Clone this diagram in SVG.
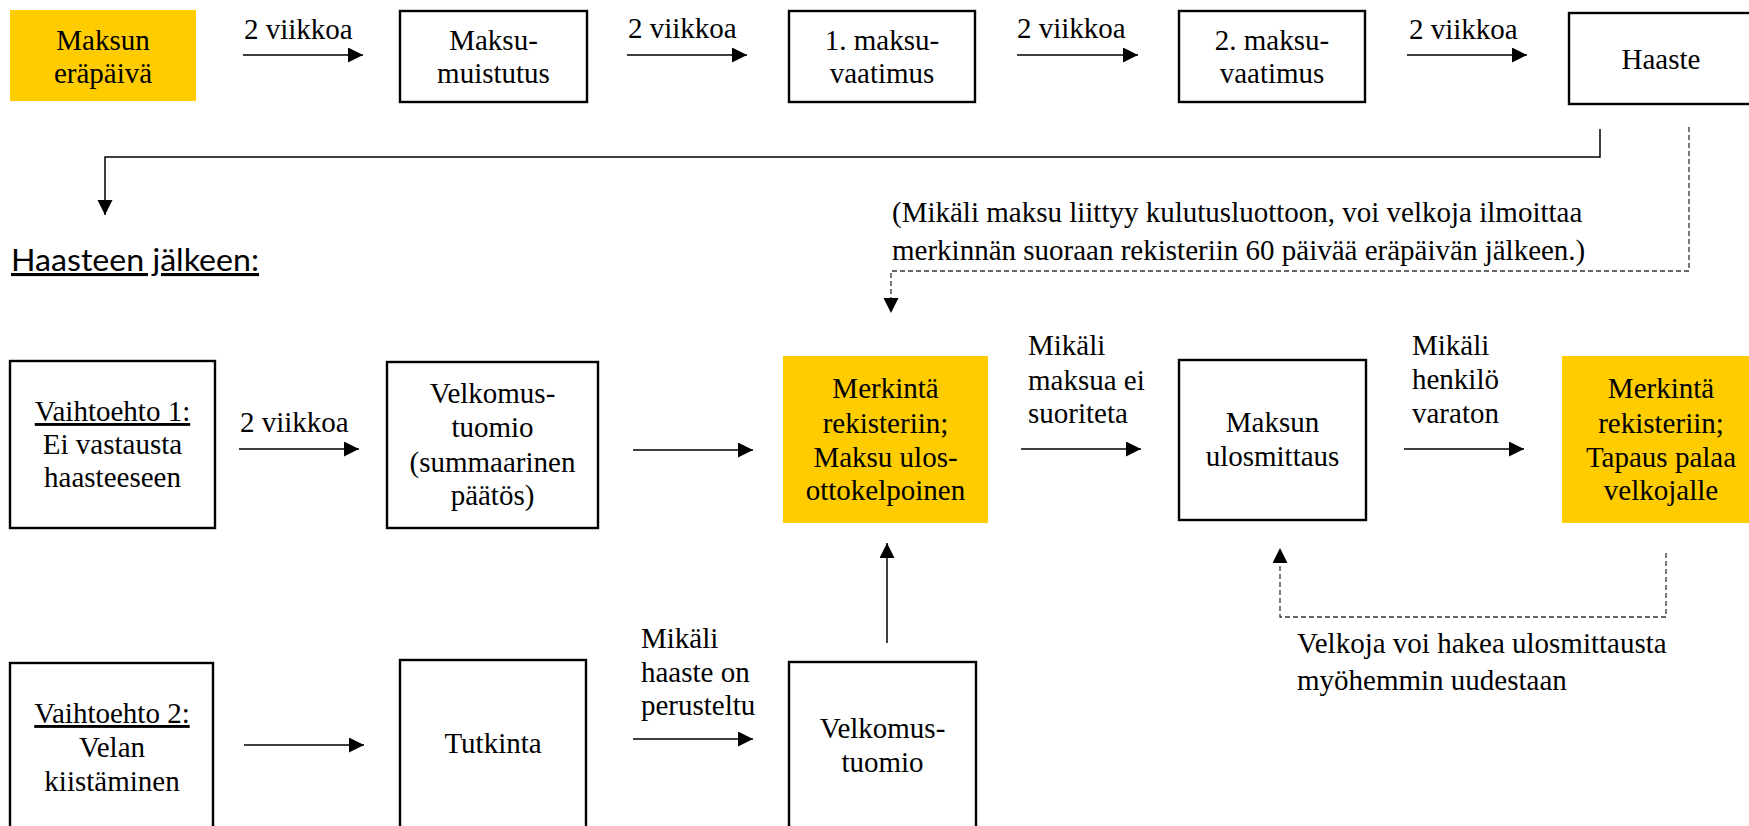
<svg xmlns="http://www.w3.org/2000/svg" width="1749" height="826" viewBox="0 0 1749 826">
<style>
.t{font-family:"Liberation Serif","Times New Roman",serif;font-size:29px;fill:#000}
.c{text-anchor:middle}
.box{fill:#fff;stroke:#000;stroke-width:2.4}
.ybox{fill:#FFCC00;stroke:none}
.ln{fill:none;stroke:#000;stroke-width:1.5}
.dash{fill:none;stroke:#333;stroke-width:1.3;stroke-dasharray:5 3}
.u{text-decoration:underline}
.h{font-family:Lato,"Open Sans",sans-serif;font-size:31px;fill:#000;text-decoration:underline}
</style>
<defs>
<marker id="ah" markerUnits="userSpaceOnUse" markerWidth="16" markerHeight="16" refX="15" refY="7.5" orient="auto" viewBox="0 0 16 16">
<path d="M0,0 L15,7.5 L0,15 z" fill="#000"/>
</marker>
</defs>
<rect width="1749" height="826" fill="#fff"/>

<g id="n1"><rect class="ybox" x="10" y="10" width="186" height="91"/>
<text class="t c" x="103" y="50">Maksun</text><text class="t c" x="103" y="83">eräpäivä</text></g>
<g id="n2"><rect class="box" x="400" y="11" width="187" height="91"/>
<text class="t c" x="493.5" y="50">Maksu-</text><text class="t c" x="493.5" y="83">muistutus</text></g>
<g id="n3"><rect class="box" x="789" y="11" width="186" height="91"/>
<text class="t c" x="882" y="50">1. maksu-</text><text class="t c" x="882" y="83">vaatimus</text></g>
<g id="n4"><rect class="box" x="1179" y="11" width="186" height="91"/>
<text class="t c" x="1272" y="50">2. maksu-</text><text class="t c" x="1272" y="83">vaatimus</text></g>
<g id="n5"><rect class="box" x="1569" y="13" width="200" height="91"/>
<text class="t c" x="1661" y="69">Haaste</text></g>

<text class="h" x="11" y="271" textLength="248" lengthAdjust="spacingAndGlyphs">Haasteen jälkeen:</text>

<g id="note">
<text class="t" x="892" y="222">(Mikäli maksu liittyy kulutusluottoon, voi velkoja ilmoittaa</text>
<text class="t" x="892" y="260">merkinnän suoraan rekisteriin 60 päivää eräpäivän jälkeen.)</text>
</g>

<g id="n6"><rect class="box" x="10" y="361" width="205" height="167"/>
<text class="t c u" x="112.5" y="421">Vaihtoehto 1:</text><text class="t c" x="112.5" y="454">Ei vastausta</text><text class="t c" x="112.5" y="487">haasteeseen</text></g>
<g id="n7"><rect class="box" x="387" y="362" width="211" height="166"/>
<text class="t c" x="492.5" y="403">Velkomus-</text><text class="t c" x="492.5" y="437">tuomio</text><text class="t c" x="492.5" y="472">(summaarinen</text><text class="t c" x="492.5" y="505">päätös)</text></g>
<g id="n8"><rect class="ybox" x="783" y="356" width="205" height="167"/>
<text class="t c" x="885.5" y="398">Merkintä</text><text class="t c" x="885.5" y="433">rekisteriin;</text><text class="t c" x="885.5" y="467">Maksu ulos-</text><text class="t c" x="885.5" y="500">ottokelpoinen</text></g>
<g id="n9"><rect class="box" x="1179" y="360" width="187" height="160"/>
<text class="t c" x="1272.5" y="432">Maksun</text><text class="t c" x="1272.5" y="466">ulosmittaus</text></g>
<g id="n10"><rect class="ybox" x="1562" y="356" width="200" height="167"/>
<text class="t c" x="1661" y="398">Merkintä</text><text class="t c" x="1661" y="433">rekisteriin;</text><text class="t c" x="1661" y="467">Tapaus palaa</text><text class="t c" x="1661" y="500">velkojalle</text></g>

<g id="n11"><rect class="box" x="10" y="663" width="203" height="180"/>
<text class="t c u" x="112" y="723">Vaihtoehto 2:</text><text class="t c" x="112" y="757">Velan</text><text class="t c" x="112" y="791">kiistäminen</text></g>
<g id="n12"><rect class="box" x="400" y="660" width="186" height="180"/>
<text class="t c" x="493" y="753">Tutkinta</text></g>
<g id="n13"><rect class="box" x="789" y="662" width="187" height="180"/>
<text class="t c" x="882.5" y="738">Velkomus-</text><text class="t c" x="882.5" y="772">tuomio</text></g>

<g id="connectors">
<line class="ln" x1="243" y1="55" x2="363" y2="55" marker-end="url(#ah)"/>
<line class="ln" x1="627" y1="55" x2="747" y2="55" marker-end="url(#ah)"/>
<line class="ln" x1="1017" y1="55" x2="1138" y2="55" marker-end="url(#ah)"/>
<line class="ln" x1="1407" y1="55" x2="1527" y2="55" marker-end="url(#ah)"/>
<path class="ln" d="M1600,129 V157 H105 V215" marker-end="url(#ah)"/>
<path class="dash" d="M1689,127 V271 H891 V313" marker-end="url(#ah)"/>
<line class="ln" x1="239" y1="449" x2="359" y2="449" marker-end="url(#ah)"/>
<line class="ln" x1="633" y1="450" x2="753" y2="450" marker-end="url(#ah)"/>
<line class="ln" x1="1021" y1="449" x2="1141" y2="449" marker-end="url(#ah)"/>
<line class="ln" x1="1404" y1="449" x2="1524" y2="449" marker-end="url(#ah)"/>
<path class="dash" d="M1666,553 V617 H1280 V548" marker-end="url(#ah)"/>
<line class="ln" x1="244" y1="745" x2="364" y2="745" marker-end="url(#ah)"/>
<line class="ln" x1="633" y1="739" x2="753" y2="739" marker-end="url(#ah)"/>
<line class="ln" x1="887" y1="643" x2="887" y2="543" marker-end="url(#ah)"/>
<g id="labels">
<text class="t" x="244" y="39">2 viikkoa</text>
<text class="t" x="628" y="38">2 viikkoa</text>
<text class="t" x="1017" y="38">2 viikkoa</text>
<text class="t" x="1409" y="39">2 viikkoa</text>
<text class="t" x="240" y="432">2 viikkoa</text>
<text class="t" x="1028" y="355">Mikäli</text><text class="t" x="1028" y="390">maksua ei</text><text class="t" x="1028" y="423">suoriteta</text>
<text class="t" x="1412" y="355">Mikäli</text><text class="t" x="1412" y="389">henkilö</text><text class="t" x="1412" y="423">varaton</text>
<text class="t" x="1297" y="653">Velkoja voi hakea ulosmittausta</text><text class="t" x="1297" y="690">myöhemmin uudestaan</text>
<text class="t" x="641" y="648">Mikäli</text><text class="t" x="641" y="682">haaste on</text><text class="t" x="641" y="715">perusteltu</text>
</g>
</g>
</svg>
